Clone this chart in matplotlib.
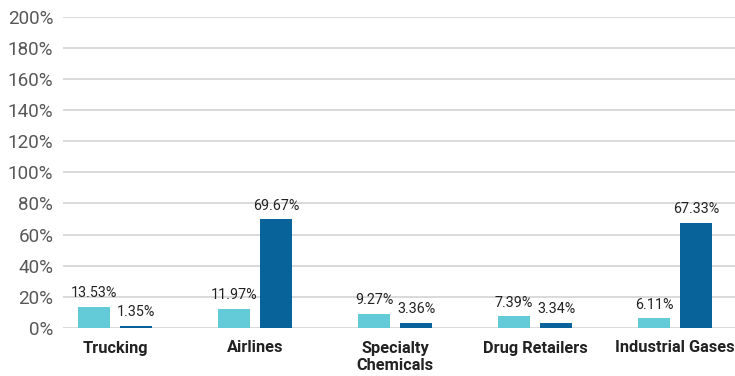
import matplotlib
matplotlib.use("Agg")
import matplotlib.pyplot as plt
import numpy as np

categories = ["Trucking", "Airlines", "Specialty\nChemicals", "Drug Retailers", "Industrial Gases"]
series_a = [13.53, 11.97, 9.27, 7.39, 6.11]
series_b = [1.35, 69.67, 3.36, 3.34, 67.33]
yticks = [0, 20, 40, 60, 80, 100, 120, 140, 160, 180, 200]

light = "#63CAD7"
dark = "#09639B"

plt.rcParams['font.family'] = ['Roboto', 'DejaVu Sans']

fig = plt.figure(figsize=(7.35, 3.76), dpi=100)
ax = fig.add_axes([63/735, (376-328)/376, (735-63)/735, (328-16.5)/376])

x = np.arange(len(categories))
w = 32/140
off = 21/140
bars_a = ax.bar(x - off, series_a, width=w, color=light, zorder=3)
bars_b = ax.bar(x + off, series_b, width=w, color=dark, zorder=3)

# value labels on top of each bar
for bars, vals in ((bars_a, series_a), (bars_b, series_b)):
    for b, v in zip(bars, vals):
        ax.annotate(f"{v:.2f}%", (b.get_x() + b.get_width()/2, b.get_height()),
                    xytext=(0, 5), textcoords="offset points",
                    ha="center", va="bottom", fontsize=10.3, color="#222222")

ax.set_xlim(-52/140, 620/140)
ax.set_ylim(0, 200)
ax.set_yticks(yticks)
ax.set_yticklabels([f"{t}%" for t in yticks], fontsize=13.6, color="#585858")
ax.set_xticks(x)
ax.set_xticklabels(categories, fontsize=11.8, fontweight="bold", color="#222222",
                   linespacing=1.2)
ax.tick_params(axis="y", length=0, pad=7)
ax.tick_params(axis="x", length=0, pad=9)
ax.grid(axis="y", color="#d9d9d9", linewidth=1.4, zorder=0)
for s in ax.spines.values():
    s.set_visible(False)

fig.savefig("out.png", dpi=100)
